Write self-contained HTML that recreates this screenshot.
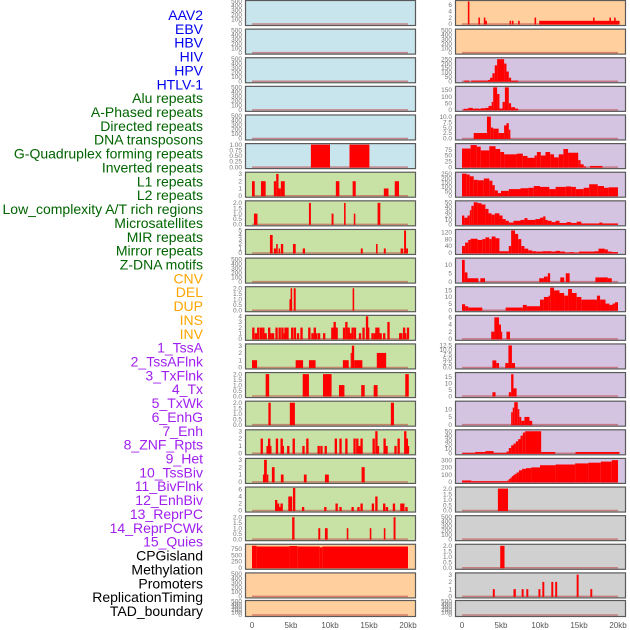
<!DOCTYPE html>
<html><head><meta charset="utf-8">
<style>
html,body{margin:0;padding:0;background:#fff;}
#wrap{position:relative;width:630px;height:630px;overflow:hidden;}
svg{position:absolute;left:0;top:0;}
</style></head>
<body>
<div id="wrap">
<svg id="chart" width="630" height="630" xmlns="http://www.w3.org/2000/svg"></svg>
</div>
<script>
const trackLabels = ["AAV2","EBV","HBV","HIV","HPV","HTLV-1","Alu repeats","A-Phased repeats","Directed repeats","DNA transposons","G-Quadruplex forming repeats","Inverted repeats","L1 repeats","L2 repeats","Low_complexity A/T rich regions","Microsatellites","MIR repeats","Mirror repeats","Z-DNA motifs","CNV","DEL","DUP","INS","INV","1_TssA","2_TssAFlnk","3_TxFlnk","4_Tx","5_TxWk","6_EnhG","7_Enh","8_ZNF_Rpts","9_Het","10_TssBiv","11_BivFlnk","12_EnhBiv","13_ReprPC","14_ReprPCWk","15_Quies","CPGisland","Methylation","Promoters","ReplicationTiming","TAD_boundary"];
const labelColors = ["#0000ee","#0000ee","#0000ee","#0000ee","#0000ee","#0000ee","#006400","#006400","#006400","#006400","#006400","#006400","#006400","#006400","#006400","#006400","#006400","#006400","#006400","#ffa500","#ffa500","#ffa500","#ffa500","#ffa500","#a020f0","#a020f0","#a020f0","#a020f0","#a020f0","#a020f0","#a020f0","#a020f0","#a020f0","#a020f0","#a020f0","#a020f0","#a020f0","#a020f0","#a020f0","#000","#000","#000","#000","#000"];
const xTickValues = [0,5,10,15,20];
const xTickLabels = ["0","5kb","10kb","15kb","20kb"];
const E = [0,100,200,300,400,500];
const leftTicks = [E,E,E,E,E,[0,0.25,0.5,0.75,1.0],[0,1,2,3],[0,0.5,1,1.5,2],[0,1,2,3,4,5],E,[0,0.5,1,1.5,2],[0,1,2,3,4],[0,1,2,3],[0,0.5,1,1.5,2],[0,0.5,1,1.5,2],[0,1,2,3],[0,1,2,3],[0,2,4,6],[0,0.5,1,1.5,2],[0,250,500,750],E,E];
const leftMax = [500,500,500,500,500,1,3.1,2.1,5,500,2.05,4,3.1,2.05,2.05,3.05,3.05,6.4,2.05,900,500,500];
const rightTicks = [[0,2,4,6],E,[0,50,100,150,200,250],[0,50,100,150],[0,2.5,5,7.5,10],[0,25,50,75],[0,50,100,150,200,250],[0,10,20,30,40,50],[0,40,80,120],[0,5,10],[0,5,10,15],[0,2,4,6],[0,2.5,5,7.5,10,12.5],[0,5,10,15],[0,5,10],[0,10,20,30,40,50],[0,100,200,300],[0,0.5,1,1.5,2],E,[0,0.5,1,1.5,2],[0,1,2,3],E];
const rightMax = [7,500,255,170,10.3,97,255,51,130,13.5,17,6.3,12.8,17.5,14.5,51,310,2.05,500,2.05,3.1,500];
const leftBgs = ["#c8e4ec","#c8e4ec","#c8e4ec","#c8e4ec","#c8e4ec","#c8e4ec","#c8e2a6","#c8e2a6","#c8e2a6","#c8e2a6","#c8e2a6","#c8e2a6","#c8e2a6","#c8e2a6","#c8e2a6","#c8e2a6","#c8e2a6","#c8e2a6","#c8e2a6","#ffd09e","#ffd09e","#ffd09e"];
const rightBgs = ["#ffd09e","#ffd09e","#d4c4e2","#d4c4e2","#d4c4e2","#d4c4e2","#d4c4e2","#d4c4e2","#d4c4e2","#d4c4e2","#d4c4e2","#d4c4e2","#d4c4e2","#d4c4e2","#d4c4e2","#d4c4e2","#d4c4e2","#d0d0d0","#d0d0d0","#d0d0d0","#d0d0d0","#d0d0d0"];
const leftData = [
 [],[],[],[],[],
 [[7.55,10.0,1],[12.5,15.05,1]],
 [[0,0.35,2],[1.15,1.75,2],[2.8,3.1,2],[3.1,3.4,3],[3.4,3.7,1],[3.7,4.2,2],[10.75,11.2,2],[12.9,13.3,2],[16.9,17.5,1],[18.3,18.85,2]],
 [[0.25,0.7,1],[7.3,7.55,2],[10.2,10.45,1],[11.8,12.0,2],[13.05,13.25,1],[16.1,16.45,2]],
 [[2.3,2.65,4],[2.8,3.1,1],[3.1,3.3,2],[3.4,3.6,1],[3.7,4.0,2],[5.25,5.6,2],[6.5,6.8,1],[13.95,14.2,1],[15.9,16.1,2],[16.9,17.15,1],[19.05,19.4,1],[19.5,19.75,5],[19.75,20.0,1]],
 [],
 [[4.8,5.0,1],[4.95,5.15,2],[5.35,5.6,2],[12.9,13.1,2]],
 [[0.17,2],[0.5,1],[0.8,2],[1.15,2],[1.45,2],[1.75,1],[2.2,2],[2.4,1],[2.7,1],[3.15,2],[3.55,2],[3.9,2],[4.2,1],[4.3,2],[4.55,2],[5.15,2],[5.5,2],[5.9,1],[6.35,2],[7.35,2],[7.75,1],[8.05,2],[8.25,1],[8.6,1],[9.25,1],[10.3,2],[10.6,3],[10.85,2],[11.8,2],[12.1,3],[12.4,2],[12.6,1],[12.9,2],[13.2,2],[13.85,1],[14.3,2],[14.75,4],[14.9,2],[15.45,1],[15.75,1],[15.95,2],[16.2,2],[16.5,1],[16.95,1],[17.5,3],[19.0,1],[19.15,1],[19.5,2],[19.65,1],[20.0,2]],
 [[0,0.65,1],[5.6,6.55,1],[7.3,8.15,1],[11.65,12.4,1],[12.65,12.8,2],[12.8,13.1,3],[13.1,14.15,1],[16.0,17.2,2]],
 [[1.75,2.2,2],[6.5,7.3,2],[9.1,10.2,2],[11.15,11.85,1],[14.0,14.45,1],[15.6,16.1,1],[19.65,20.1,2]],
 [[2.1,2.4,2],[4.85,5.5,2],[17.8,18.2,2]],
 [[1.25,2],[2.0,1],[2.2,2],[2.35,1],[3.2,2],[3.8,2],[3.95,1],[4.65,1],[5.35,2],[6.6,1],[7.1,2],[8.55,1],[8.9,1],[9.45,1],[10.75,2],[11.35,2],[12.1,2],[13.15,2],[13.5,2],[13.8,1],[14.05,2],[15.6,2],[15.95,3],[16.15,1],[17.0,2],[17.25,1],[18.4,1],[18.8,2],[19.65,3],[19.85,2],[20.0,1]],
 [[1.4,1.7,1],[1.55,1.9,3],[1.9,2.1,1],[2.55,2.9,2],[3.7,4.05,1],[6.65,7.0,1],[9.35,9.85,1],[14.05,14.45,2]],
 [[3.1,3],[3.35,2],[3.6,1],[3.8,2],[4.8,4],[5.0,4],[5.4,6.4],[6.55,1],[9.4,1],[10.85,2],[11.35,1],[12.9,1],[13.65,1],[14.05,2],[15.5,2],[15.95,4],[16.95,2],[17.3,1],[18.2,2],[19.15,2],[19.4,2],[19.8,1]],
 [[5.15,5.45,2],[8.5,8.75,1],[9.35,9.7,1],[12.15,12.35,1],[15.1,15.3,1],[16.9,17.1,1],[18.15,18.4,2]],
 [[0,0.6,880],[0.6,4.8,850],[4.8,5.8,870],[5.8,8.7,850],[8.7,9.0,820],[9.0,20.0,850]],
 [],[]
];
const rightData = [
 [[0.75,0.95,7],[2.1,2.3,2],[2.8,3.0,2],[3.0,3.2,1],[6.1,6.3,1],[6.4,6.6,1],[7.2,7.4,1],[9.3,9.5,2],[9.9,20.2,1],[16.8,17.0,2],[18.9,19.1,2],[19.5,19.7,2]],
 [],
 [[0.3,0.9,8],[1.2,3.3,8],[3.3,3.6,15],[3.6,3.9,40],[3.9,4.2,90],[4.2,4.5,180],[4.5,5.4,250],[5.4,5.7,200],[5.7,6.0,110],[6.0,6.3,40],[6.3,7.2,8]],
 [[0.2,0.8,8],[0.8,1.4,15],[1.4,1.6,8],[1.6,2.1,10],[2.1,2.4,8],[2.4,3.0,12],[3.0,3.4,15],[3.4,3.8,30],[3.8,4.0,60],[4.0,4.5,170],[4.5,4.8,120],[4.8,5.2,10],[5.2,5.5,60],[5.5,6.0,170],[6.0,6.3,50],[6.3,6.8,20],[6.8,7.2,10]],
 [[1.5,3.2,2.5],[3.2,3.7,10],[3.7,4.0,5],[4.0,4.7,4.5],[4.7,5.4,2.5],[5.4,5.7,6],[5.7,6.0,7],[6.0,6.2,4]],
 [[0,1.1,80],[1.1,1.9,95],[1.9,2.4,88],[2.4,3.5,72],[3.5,4.3,90],[4.3,4.9,78],[4.9,5.4,65],[5.4,7.0,55],[7.0,7.8,58],[7.8,8.4,48],[8.4,9.3,40],[9.3,9.6,50],[9.6,10.1,65],[10.1,10.7,50],[10.7,11.3,65],[11.3,11.8,55],[11.8,12.4,42],[12.4,13.0,55],[13.0,13.6,78],[13.6,14.9,62],[14.9,15.2,30],[15.2,15.6,12],[15.6,15.9,3],[16.4,18.0,5]],
 [[0,0.6,250],[0.6,1.0,240],[1.0,1.5,220],[1.5,2.0,180],[2.0,2.8,175],[2.8,3.5,195],[3.5,3.9,170],[3.9,4.2,120],[4.2,4.6,60],[4.6,5.0,30],[5.0,6.0,55],[6.0,7.5,75],[7.5,8.5,85],[8.5,9.2,90],[9.2,10.0,110],[10.0,11.2,100],[11.2,12.0,75],[12.0,13.3,100],[13.3,14.0,105],[14.0,14.6,100],[14.6,15.6,75],[15.6,16.3,90],[16.3,17.4,130],[17.4,18.2,110],[18.2,18.8,90],[18.8,20.0,95]],
 [[0,0.3,20],[0.3,0.7,15],[0.7,1.0,20],[1.0,1.2,32],[1.2,1.5,42],[1.5,2.0,50],[2.0,2.5,48],[2.5,3.0,45],[3.0,3.4,35],[3.4,3.8,25],[3.8,4.2,22],[4.2,4.8,25],[4.8,5.2,20],[5.2,5.6,12],[5.6,6.0,8],[6.0,6.6,4],[6.6,7.5,8],[7.5,8.0,10],[8.0,8.4,14],[8.4,9.4,10],[9.4,10.0,12],[10.0,10.4,15],[10.4,10.7,18],[10.7,11.0,10],[11.0,11.5,8],[11.5,12.0,5],[12.0,12.5,8],[12.5,13.4,3],[13.4,14.0,5],[14.0,14.7,3],[14.7,15.3,6],[15.3,17.6,2],[17.6,18.0,4],[18.0,20.0,2]],
 [[0,0.4,40],[0.4,0.8,60],[0.8,1.1,75],[1.1,2.0,82],[2.0,2.6,75],[2.6,3.0,80],[3.0,3.5,90],[3.5,3.8,80],[3.8,4.3,95],[4.3,4.8,85],[4.8,6.0,10],[6.0,6.3,40],[6.3,6.8,130],[6.8,7.2,110],[7.2,7.6,80],[7.6,8.0,40],[8.0,8.5,25],[8.5,9.0,15],[9.0,9.5,10],[9.5,10.3,8],[10.3,11.5,10],[11.5,12.0,8],[12.0,12.6,12],[12.6,13.2,8],[13.2,13.8,3],[13.8,14.3,5],[14.3,15.0,2],[15.0,17.0,8],[17.0,17.5,10],[17.5,18.3,25],[18.3,18.7,20],[18.7,19.2,8],[19.2,20.0,5]],
 [[0,0.35,13],[0.35,0.7,5.5],[0.7,2.1,2],[2.35,2.95,2],[9.9,10.5,2],[10.5,10.7,3],[10.7,11.0,3],[11.0,11.3,5],[12.6,13.1,2.5],[13.3,13.8,5],[17.1,18.7,2.5],[18.7,19.2,2]],
 [[0,0.4,4.5],[0.4,0.8,3],[0.8,2.6,2],[5.6,7.8,2],[7.8,8.3,4],[8.3,10.0,3],[10.0,10.5,8],[10.5,11.1,10],[11.1,11.3,11],[11.3,11.8,17],[11.8,12.5,15],[12.5,13.1,13],[13.1,13.6,11],[13.6,14.1,16],[14.1,14.7,13],[14.7,15.3,10],[15.3,17.3,8],[17.3,17.7,11],[17.7,18.4,8],[18.4,18.9,5],[18.9,19.3,4],[19.3,19.6,5],[19.6,20.0,6]],
 [[3.75,4.15,2],[4.15,4.75,6],[4.75,5.0,4],[5.0,5.15,2],[5.7,6.15,2]],
 [[3.9,4.4,4],[4.4,4.75,2.5],[5.55,5.95,2.5],[5.95,6.4,12.5],[6.4,6.8,2.5]],
 [[3.9,4.3,3],[6.0,6.3,3],[6.3,6.6,17],[6.6,7.0,6]],
 [[6.3,6.5,8],[6.5,6.7,11],[6.7,7.15,14.5],[7.15,7.35,10],[7.35,7.6,5],[7.6,8.0,2.5],[8.0,8.65,5],[8.65,9.0,2.5]],
 [[0,1.7,1],[1.7,3.0,3],[3.0,4.05,5],[4.05,5.7,1],[5.7,6.0,4],[6.0,6.3,12],[6.3,6.6,18],[6.6,6.9,22],[6.9,7.2,27],[7.2,7.5,32],[7.5,7.8,40],[7.8,8.1,47],[8.1,10.15,50],[10.15,11.95,3],[14.55,20.2,3]],
 [[0,1.2,20],[1.2,5.8,10],[5.8,6.0,20],[6.0,6.2,40],[6.2,6.4,60],[6.4,6.6,80],[6.6,6.8,100],[6.8,7.0,110],[7.0,7.3,130],[7.3,7.7,160],[7.7,8.2,180],[8.2,8.9,190],[8.9,10.0,200],[10.0,12.0,230],[12.0,14.5,240],[14.5,16.2,255],[16.2,17.8,265],[17.8,19.2,280],[19.2,20.0,300]],
 [[4.6,5.9,2]],
 [],
 [[4.9,5.45,2]],
 [[3.95,4.2,1],[6.6,6.9,1],[7.65,7.9,1],[8.25,8.5,1],[9.8,10.05,1],[10.3,10.55,2],[11.45,11.7,2],[11.95,12.2,2],[14.7,14.95,3],[16.45,16.7,1]],
 []
];

const NS = "http://www.w3.org/2000/svg";
const svg = document.getElementById('chart');
function mk(tag, attrs, parent){ const e=document.createElementNS(NS,tag); for(const k in attrs) e.setAttribute(k,attrs[k]); (parent||svg).appendChild(e); return e; }
function decimalsOf(ticks){ let d=0; ticks.forEach(t=>{ const s=String(t); if(s.indexOf('.')>=0) d=Math.max(d,s.split('.')[1].length); }); return d; }

trackLabels.forEach((t,i)=>{
  const el = mk('text',{x:203,y:15+i*13.86+5,'text-anchor':'end','font-family':'Liberation Sans, Arial, sans-serif','font-size':'14',fill:labelColors[i]});
  el.textContent = t;
  
  
});

const cols = [{x0:245,w:171,ticks:leftTicks,max:leftMax,bg:leftBgs,data:leftData,name:'left'},
              {x0:455,w:171,ticks:rightTicks,max:rightMax,bg:rightBgs,data:rightData,name:'right'}];
function xScale(col,kb){ return col.x0 + 7 + kb*7.8; }
function rowTop(r){ return r<21 ? 0.5 + r*28.62 : 600.5; }
function rowH(r){ return r<21 ? 25 : 16; }

cols.forEach(col=>{
  for(let r=0;r<22;r++){
    const T=rowTop(r), H=rowH(r), ymax=col.max[r];
    const yS = v => T + H - 1.5 - v/ymax*(H-2.5);
    const g = mk('g',{});
    
    
    mk('rect',{x:col.x0,y:T,width:col.w,height:H,fill:col.bg[r],stroke:'none'},g);
    mk('line',{x1:xScale(col,0),x2:xScale(col,20),y1:yS(0),y2:yS(0),stroke:'rgba(190,60,60,0.55)','stroke-width':'1.5'},g);
    col.data[r].forEach(d=>{
      let s,e,v;
      if(d.length===2){ s=d[0]-0.15; e=d[0]+0.15; v=d[1]; } else { s=d[0]; e=d[1]; v=d[2]; }
      const x1=xScale(col,s), x2=xScale(col,e), y=yS(v);
      const b = mk('rect',{x:x1,y:Math.max(T,y),width:Math.max(1.2,x2-x1),height:yS(0)-Math.max(T,y)+0.5,fill:'#ff0000'},g);
      
      
    });
    mk('rect',{x:col.x0+0.5,y:T,width:col.w-1,height:H,fill:'none',stroke:'#5a5a5a','stroke-width':'1.2'},g);
    const dec = decimalsOf(col.ticks[r]);
    col.ticks[r].forEach(tv=>{
      const t = mk('text',{x:col.x0-3,y:yS(tv)+2.2,'text-anchor':'end','font-family':'Liberation Sans, Arial, sans-serif','font-size':'6.5',fill:'#777'},g);
      t.textContent = tv.toFixed(dec);
      
      
    });
  }
  xTickValues.forEach((v,i)=>{
    const t = mk('text',{x:xScale(col,v),y:628,'text-anchor':'middle','font-family':'Liberation Sans, Arial, sans-serif','font-size':'8',fill:'#555'});
    t.textContent = xTickLabels[i];
    
    
  });
});
</script>
</body></html>
